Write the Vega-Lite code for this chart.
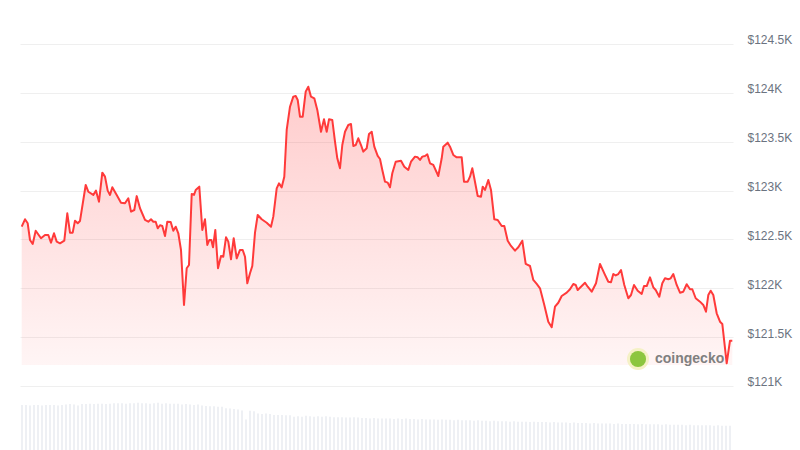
{
  "$schema": "https://vega.github.io/schema/vega-lite/v6.json",
  "width": 713,
  "height": 450,
  "autosize": "none",
  "padding": {"left": 20, "right": 67, "top": 0, "bottom": 0},
  "background": "white",
  "config": {"view": {"stroke": null}},
  "layer": [
    {
      "data": {"values": [
        {"t":2,"v":100},{"t":6,"v":100},{"t":10,"v":99},{"t":14,"v":100},{"t":18,"v":100},{"t":22,"v":99},{"t":26,"v":100},{"t":30,"v":100},{"t":34,"v":100},{"t":38,"v":99},
        {"t":42,"v":100},{"t":46,"v":101},{"t":50,"v":102},{"t":54,"v":101},{"t":58,"v":99},{"t":62,"v":102},{"t":66,"v":102},{"t":70,"v":103},{"t":74,"v":102},{"t":78,"v":103},
        {"t":82,"v":103},{"t":86,"v":102},{"t":90,"v":103},{"t":94,"v":104},{"t":98,"v":104},{"t":102,"v":104},{"t":106,"v":103},{"t":110,"v":104},{"t":114,"v":104},{"t":118,"v":105},
        {"t":122,"v":104},{"t":126,"v":104},{"t":130,"v":103},{"t":134,"v":104},{"t":138,"v":105},{"t":142,"v":103},{"t":146,"v":104},{"t":150,"v":103},{"t":154,"v":103},{"t":158,"v":103},
        {"t":162,"v":101},{"t":166,"v":102},{"t":170,"v":101},{"t":174,"v":100},{"t":178,"v":101},{"t":182,"v":99},{"t":186,"v":98},{"t":190,"v":97},{"t":194,"v":97},{"t":198,"v":96},
        {"t":202,"v":96},{"t":206,"v":93},{"t":210,"v":92},{"t":214,"v":91},{"t":218,"v":90},{"t":222,"v":88},{"t":226,"v":68},{"t":230,"v":87},{"t":234,"v":86},{"t":238,"v":81},
        {"t":242,"v":80},{"t":246,"v":81},{"t":250,"v":80},{"t":254,"v":78},{"t":258,"v":78},{"t":262,"v":78},{"t":266,"v":77},{"t":270,"v":77},{"t":274,"v":74},{"t":278,"v":75},
        {"t":282,"v":74},{"t":286,"v":76},{"t":290,"v":75},{"t":294,"v":74},{"t":298,"v":75},{"t":302,"v":74},{"t":306,"v":75},{"t":310,"v":74},{"t":314,"v":73},{"t":318,"v":73},
        {"t":322,"v":73},{"t":326,"v":72},{"t":330,"v":72},{"t":334,"v":73},{"t":338,"v":72},{"t":342,"v":71},{"t":346,"v":71},{"t":350,"v":70},{"t":354,"v":71},{"t":358,"v":70},
        {"t":362,"v":70},{"t":366,"v":70},{"t":370,"v":70},{"t":374,"v":69},{"t":378,"v":70},{"t":382,"v":69},{"t":386,"v":70},{"t":390,"v":69},{"t":394,"v":69},{"t":398,"v":68},
        {"t":402,"v":69},{"t":406,"v":68},{"t":410,"v":68},{"t":414,"v":68},{"t":418,"v":67},{"t":422,"v":68},{"t":426,"v":67},{"t":430,"v":67},{"t":434,"v":66},{"t":438,"v":67},
        {"t":442,"v":66},{"t":446,"v":66},{"t":450,"v":66},{"t":454,"v":65},{"t":458,"v":66},{"t":462,"v":65},{"t":466,"v":65},{"t":470,"v":64},{"t":474,"v":65},{"t":478,"v":64},
        {"t":482,"v":64},{"t":486,"v":64},{"t":490,"v":63},{"t":494,"v":64},{"t":498,"v":63},{"t":502,"v":63},{"t":506,"v":63},{"t":510,"v":62},{"t":514,"v":63},{"t":518,"v":62},
        {"t":522,"v":62},{"t":526,"v":62},{"t":530,"v":61},{"t":534,"v":62},{"t":538,"v":61},{"t":542,"v":61},{"t":546,"v":61},{"t":550,"v":60},{"t":554,"v":61},{"t":558,"v":60},
        {"t":562,"v":60},{"t":566,"v":60},{"t":570,"v":59},{"t":574,"v":60},{"t":578,"v":59},{"t":582,"v":59},{"t":586,"v":59},{"t":590,"v":59},{"t":594,"v":58},{"t":598,"v":59},
        {"t":602,"v":58},{"t":606,"v":58},{"t":610,"v":58},{"t":614,"v":58},{"t":618,"v":57},{"t":622,"v":58},{"t":626,"v":57},{"t":630,"v":57},{"t":634,"v":57},{"t":638,"v":57},
        {"t":642,"v":56},{"t":646,"v":57},{"t":650,"v":56},{"t":654,"v":56},{"t":658,"v":56},{"t":662,"v":56},{"t":666,"v":55},{"t":670,"v":56},{"t":674,"v":55},{"t":678,"v":55},
        {"t":682,"v":55},{"t":686,"v":55},{"t":690,"v":55},{"t":694,"v":54},{"t":698,"v":55},{"t":702,"v":54},{"t":706,"v":54},{"t":710,"v":54}
      ]},
      "mark": {"type": "bar", "width": 2, "color": "#eef0f4"},
      "encoding": {
        "x": {"field": "t", "type": "quantitative", "scale": {"domain": [0, 713], "nice": false, "zero": false, "padding": 0}, "axis": null},
        "y": {"field": "v", "type": "quantitative", "scale": {"domain": [0, 1000], "nice": false, "padding": 0}, "axis": null}
      }
    },
    {
      "layer": [
        {
          "data": {"name": "price", "values": [
            {"t":1.7,"p":122630},{"t":5,"p":122706},{"t":7.7,"p":122665},{"t":10,"p":122494},{"t":12.7,"p":122453},{"t":15.7,"p":122589},{"t":21,"p":122512},{"t":25,"p":122545},{"t":28.3,"p":122545},{"t":31,"p":122467},
            {"t":34,"p":122563},{"t":36.7,"p":122477},{"t":40,"p":122460},{"t":44.3,"p":122487},{"t":47.3,"p":122767},{"t":50,"p":122569},{"t":52.7,"p":122569},{"t":55,"p":122692},{"t":57.7,"p":122665},{"t":60,"p":122689},
            {"t":65.7,"p":123057},{"t":68.3,"p":122988},{"t":73.3,"p":122955},{"t":76,"p":122999},{"t":79,"p":122886},{"t":82.3,"p":123183},{"t":85,"p":123142},{"t":87.7,"p":122999},{"t":90,"p":122955},{"t":92.3,"p":123033},
            {"t":96.7,"p":122955},{"t":101,"p":122876},{"t":105,"p":122870},{"t":108.3,"p":122921},{"t":111,"p":122784},{"t":114.3,"p":122801},{"t":116.7,"p":122943},{"t":120,"p":122819},{"t":125,"p":122699},{"t":128.3,"p":122681},
            {"t":131,"p":122706},{"t":133.3,"p":122681},{"t":135.7,"p":122681},{"t":137.7,"p":122614},{"t":140,"p":122645},{"t":142.3,"p":122637},{"t":145,"p":122535},{"t":147.3,"p":122681},{"t":150.7,"p":122678},{"t":153.3,"p":122589},
            {"t":155.7,"p":122630},{"t":158.3,"p":122563},{"t":161,"p":122392},{"t":164,"p":121829},{"t":166.7,"p":122205},{"t":169,"p":122238},{"t":171.7,"p":122965},{"t":174,"p":122955},{"t":175.7,"p":123006},{"t":179.3,"p":123040},
            {"t":182.3,"p":122597},{"t":185,"p":122706},{"t":187.3,"p":122443},{"t":189.3,"p":122494},{"t":191.3,"p":122494},{"t":193,"p":122419},{"t":195.3,"p":122597},{"t":198,"p":122205},{"t":201,"p":122330},{"t":203.3,"p":122323},
            {"t":206,"p":122522},{"t":208.3,"p":122477},{"t":211,"p":122297},{"t":213.7,"p":122512},{"t":216.7,"p":122307},{"t":220,"p":122392},{"t":222.7,"p":122392},{"t":225,"p":122323},{"t":227.3,"p":122051},{"t":230,"p":122153},
            {"t":232.3,"p":122228},{"t":235,"p":122570},{"t":237.7,"p":122750},{"t":241.7,"p":122706},{"t":246.7,"p":122671},{"t":251,"p":122630},{"t":253.3,"p":122733},{"t":256.7,"p":123023},{"t":259,"p":123074},{"t":261.7,"p":123033},
            {"t":264.3,"p":123142},{"t":266.7,"p":123620},{"t":270,"p":123858},{"t":273.3,"p":123961},{"t":275.7,"p":123968},{"t":277.7,"p":123927},{"t":280,"p":123756},{"t":282.7,"p":123756},{"t":285.7,"p":124012},{"t":288.3,"p":124063},
            {"t":291,"p":123961},{"t":294.3,"p":123944},{"t":297.3,"p":123825},{"t":301,"p":123602},{"t":304,"p":123729},{"t":306.7,"p":123602},{"t":309,"p":123729},{"t":312.3,"p":123722},{"t":315,"p":123500},{"t":317.3,"p":123330},
            {"t":320,"p":123228},{"t":322.3,"p":123466},{"t":325,"p":123602},{"t":328.3,"p":123671},{"t":331,"p":123681},{"t":333.3,"p":123456},{"t":335.7,"p":123466},{"t":338.3,"p":123535},{"t":341,"p":123466},{"t":343.3,"p":123398},
            {"t":346.7,"p":123433},{"t":349,"p":123579},{"t":351.7,"p":123602},{"t":354.3,"p":123449},{"t":357.7,"p":123354},{"t":360,"p":123323},{"t":362.3,"p":123211},{"t":365,"p":123091},{"t":367.7,"p":123081},{"t":370,"p":123033},
            {"t":372.3,"p":123177},{"t":375.7,"p":123295},{"t":381,"p":123306},{"t":384.3,"p":123244},{"t":388.3,"p":123211},{"t":391,"p":123295},{"t":395,"p":123347},{"t":397.7,"p":123340},{"t":400,"p":123313},{"t":402.3,"p":123347},
            {"t":405,"p":123354},{"t":407.3,"p":123371},{"t":410,"p":123279},{"t":413.3,"p":123262},{"t":418.3,"p":123149},{"t":421.7,"p":123330},{"t":423.3,"p":123449},{"t":427.7,"p":123490},{"t":430,"p":123449},{"t":433.3,"p":123364},
            {"t":436.7,"p":123340},{"t":441.7,"p":123340},{"t":444,"p":123091},{"t":447.7,"p":123091},{"t":450,"p":123142},{"t":452.3,"p":123228},{"t":454.3,"p":123126},{"t":457.7,"p":122944},{"t":461,"p":122937},{"t":462.7,"p":123040},
            {"t":465,"p":123006},{"t":468.3,"p":123108},{"t":471,"p":123006},{"t":474.3,"p":122706},{"t":477.7,"p":122699},{"t":481.7,"p":122637},{"t":484.3,"p":122637},{"t":487.7,"p":122487},{"t":491,"p":122433},{"t":495,"p":122385},
            {"t":498.3,"p":122419},{"t":502.3,"p":122487},{"t":505.7,"p":122249},{"t":510,"p":122228},{"t":513.3,"p":122085},{"t":516.7,"p":122044},{"t":520,"p":122000},{"t":524.3,"p":121829},{"t":528.3,"p":121658},{"t":531.7,"p":121601},
            {"t":535,"p":121812},{"t":538.3,"p":121852},{"t":541.7,"p":121921},{"t":546.7,"p":121955},{"t":550,"p":121990},{"t":553.3,"p":122044},{"t":555.7,"p":122034},{"t":557.7,"p":121982},{"t":561,"p":122016},{"t":565,"p":122057},
            {"t":567.7,"p":122016},{"t":571.7,"p":121965},{"t":576,"p":122051},{"t":580,"p":122249},{"t":584.3,"p":122153},{"t":588.3,"p":122067},{"t":591,"p":122061},{"t":593.3,"p":122146},{"t":595.7,"p":122131},{"t":598.3,"p":122146},
            {"t":601,"p":122187},{"t":604.3,"p":122034},{"t":608.3,"p":121898},{"t":611,"p":121931},{"t":614,"p":122034},{"t":617.7,"p":121975},{"t":621.7,"p":121942},{"t":624,"p":122023},{"t":626.7,"p":122023},{"t":630,"p":122112},
            {"t":633.3,"p":122010},{"t":635.7,"p":121982},{"t":639.3,"p":121914},{"t":642.3,"p":122051},{"t":645,"p":122102},{"t":648.3,"p":122092},{"t":650.7,"p":122102},{"t":653.3,"p":122146},{"t":656.7,"p":122034},{"t":660,"p":121955},
            {"t":663.3,"p":121965},{"t":666.7,"p":122041},{"t":670,"p":121990},{"t":672.3,"p":121990},{"t":675.7,"p":121898},{"t":680,"p":121863},{"t":683.3,"p":121829},{"t":686,"p":121760},{"t":688.3,"p":121931},{"t":690.7,"p":121975},
            {"t":693.3,"p":121931},{"t":696.7,"p":121744},{"t":700,"p":121658},{"t":702.3,"p":121635},{"t":706.7,"p":121232},{"t":710,"p":121464},{"t":712.3,"p":121464}
          ]},
          "layer": [
            {
              "mark": {"type": "area", "fill": {"x1": 0, "y1": 0, "x2": 0, "y2": 1, "gradient": "linear", "stops": [{"offset": 0, "color": "rgba(255,58,58,0.26)"}, {"offset": 1, "color": "rgba(255,58,58,0.05)"}]}},
              "encoding": {
                "x": {"field": "t", "type": "quantitative", "scale": {"domain": [0, 713], "nice": false, "zero": false, "padding": 0}, "axis": null},
                "y": {"field": "p", "type": "quantitative", "scale": {"domain": [120345, 124950], "nice": false, "zero": false},
                  "axis": {"orient": "right", "values": [121000, 121500, 122000, 122500, 123000, 123500, 124000, 124500],
                    "labelExpr": "'$' + format(datum.value / 1000, '.1~f') + 'K'", "domain": false, "ticks": false, "labelPadding": 14, "labelOffset": -4,
                    "labelColor": "#6b7380", "labelFont": "Liberation Sans", "labelFontSize": 12, "title": null, "grid": true, "gridColor": "#efefef", "gridWidth": 1}},
                "y2": {"datum": 121215}
              }
            },
            {
              "mark": {"type": "line", "color": "#ff3a3a", "strokeWidth": 2, "strokeJoin": "round"},
              "encoding": {
                "x": {"field": "t", "type": "quantitative"},
                "y": {"field": "p", "type": "quantitative", "scale": {"domain": [120345, 124950], "nice": false, "zero": false}}
              }
            }
          ]
        },
        {
          "data": {"values": [{"label": "coingecko", "t": 618, "tt": 635, "p": 121276}]},
          "layer": [
            {
              "mark": {"type": "point", "filled": true, "shape": "circle", "size": 484, "color": "#f5f1c6", "opacity": 1},
              "encoding": {"x": {"field": "t", "type": "quantitative"}, "y": {"field": "p", "type": "quantitative"}}
            },
            {
              "mark": {"type": "point", "filled": true, "shape": "circle", "size": 260, "color": "#8cc63f", "opacity": 1},
              "encoding": {"x": {"field": "t", "type": "quantitative"}, "y": {"field": "p", "type": "quantitative"}}
            },
            {
              "mark": {"type": "text", "align": "left", "baseline": "middle", "font": "Liberation Sans", "fontSize": 14, "fontWeight": "bold", "color": "#808080"},
              "encoding": {"x": {"field": "tt", "type": "quantitative"}, "y": {"field": "p", "type": "quantitative"}, "text": {"field": "label"}}
            }
          ]
        }
      ]
    }
  ],
  "resolve": {"scale": {"y": "independent"}}
}
